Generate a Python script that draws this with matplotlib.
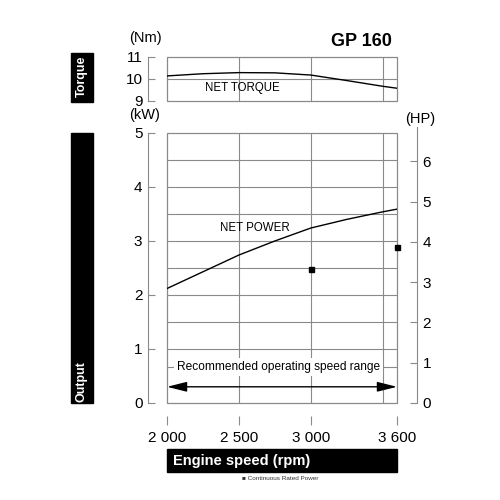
import matplotlib
matplotlib.use('Agg')
import matplotlib.pyplot as plt
import numpy as np
from matplotlib.patches import Rectangle

# ---- data ----
rpm = [2000, 2250, 2500, 2750, 3000, 3250, 3500, 3600]
torque_nm = [10.14, 10.24, 10.29, 10.28, 10.18, 9.93, 9.67, 9.58]
power_kw = [2.12, 2.43, 2.74, 3.00, 3.24, 3.40, 3.54, 3.59]
rated_rpm = [3000, 3600]
rated_kw = [2.48, 2.88]
x_ticks = [2000, 2500, 3000, 3600]
x_ticklabels = ['2 000', '2 500', '3 000', '3 600']
kw_ticks = [0, 1, 2, 3, 4, 5]
hp_ticks = [0, 1, 2, 3, 4, 5, 6]
nm_ticks = [9, 10, 11]
KW_PER_HP = 0.7457

FONT = ['Liberation Sans', 'DejaVu Sans']
plt.rcParams['font.family'] = FONT
GRAY = '#8a8a8a'

fig = plt.figure(figsize=(5, 5), dpi=100)
fig.patch.set_facecolor('white')

# ---- output (kW) axes ----
ax = fig.add_axes([0.334, 0.194, 0.46, 0.54])
ax.set_xlim(2000, 3600)
ax.set_ylim(0, 5)
ax.spines['top'].set_visible(False)
ax.spines['right'].set_visible(False)
ax.spines['left'].set_position(('outward', 13.7))
ax.spines['left'].set_color(GRAY)
ax.spines['left'].set_linewidth(0.8)
ax.spines['bottom'].set_position(('outward', 15.8))
ax.spines['bottom'].set_visible(False)
ax.set_yticks(kw_ticks)
ax.set_xticks(x_ticks)
ax.set_xticklabels(x_ticklabels)
ax.tick_params(axis='y', direction='in', length=5, color=GRAY, width=0.8, labelsize=11, pad=4)
ax.tick_params(axis='x', direction='in', length=6.5, color=GRAY, width=0.8, labelsize=11, pad=4)
ax.add_patch(Rectangle((0, 0), 1, 1, transform=ax.transAxes, fill=False, ec=GRAY, lw=0.9, clip_on=False, zorder=1))
for y in [1.0, 1.5, 2.0, 2.5, 3.0, 3.5, 4.0, 4.5, 0.67]:
    ax.axhline(y, color=GRAY, lw=0.8, zorder=1)
for x in [2500, 3000, 3500]:
    ax.axvline(x, color=GRAY, lw=0.8, zorder=1)
ax.plot(rpm, power_kw, color='black', lw=1.0, zorder=3)
ax.plot(rated_rpm, rated_kw, 's', color='black', ms=3.6, clip_on=False, zorder=4)
ax.text(2608, 3.24, 'NET POWER', ha='center', va='center', fontsize=8.3, zorder=4)
ax.text(2776, 0.67, 'Recommended operating speed range', ha='center', va='center', fontsize=8.6,
        bbox=dict(facecolor='white', edgecolor='none', pad=2), zorder=4)
ax.annotate('', xy=(3600, 0.3), xytext=(2000, 0.3),
            arrowprops=dict(arrowstyle='<|-|>,head_length=1.2,head_width=0.3', color='black', lw=1,
                            mutation_scale=10, shrinkA=0, shrinkB=0), zorder=4)

# ---- HP axis ----
ax2 = ax.twinx()
ax2.set_ylim(0, 5 / KW_PER_HP)
for s in ['top', 'left', 'bottom']:
    ax2.spines[s].set_visible(False)
ax2.spines['right'].set_position(('outward', 14.4))
ax2.spines['right'].set_color(GRAY)
ax2.spines['right'].set_linewidth(0.8)
ax2.spines['right'].set_bounds(0, 6.85)
ax2.set_yticks(hp_ticks)
ax2.tick_params(axis='y', direction='in', length=5, color=GRAY, width=0.8, labelsize=11, pad=4)

# ---- torque axes ----
axt = fig.add_axes([0.334, 0.798, 0.46, 0.088])
axt.set_xlim(2000, 3600)
axt.set_ylim(9, 11)
for s in ['top', 'right', 'bottom']:
    axt.spines[s].set_visible(False)
axt.spines['left'].set_position(('outward', 13.7))
axt.spines['left'].set_color(GRAY)
axt.spines['left'].set_linewidth(0.8)
axt.set_xticks([])
axt.set_yticks(nm_ticks)
axt.tick_params(axis='y', direction='in', length=5, color=GRAY, width=0.8, labelsize=11, pad=4)
axt.add_patch(Rectangle((0, 0), 1, 1, transform=axt.transAxes, fill=False, ec=GRAY, lw=0.9, clip_on=False, zorder=1))
axt.axhline(10, color=GRAY, lw=0.8, zorder=1)
for x in [2500, 3000, 3500]:
    axt.axvline(x, color=GRAY, lw=0.8, zorder=1)
axt.plot(rpm, torque_nm, color='black', lw=1.0, zorder=3)
axt.text(2524, 9.6, 'NET TORQUE', ha='center', va='center', fontsize=8.3, zorder=4)

# ---- labels ----
fig.text(0.29, 0.924, '(Nm)', ha='center', va='center', fontsize=10.5)
fig.text(0.29, 0.77, '(kW)', ha='center', va='center', fontsize=10.5)
fig.text(0.84, 0.763, '(HP)', ha='center', va='center', fontsize=10.5)
fig.text(0.784, 0.918, 'GP 160', ha='right', va='center', fontsize=13, fontweight='bold')

# black bands
fig.add_artist(Rectangle((0.142, 0.796), 0.044, 0.098, transform=fig.transFigure, color='black'))
fig.text(0.164, 0.847, 'Torque', rotation=90, ha='center', va='center', color='white',
         fontsize=9, fontweight='bold')
fig.add_artist(Rectangle((0.142, 0.194), 0.044, 0.54, transform=fig.transFigure, color='black'))
fig.text(0.164, 0.236, 'Output', rotation=90, ha='center', va='center', color='white',
         fontsize=9, fontweight='bold')
fig.add_artist(Rectangle((0.334, 0.056), 0.46, 0.046, transform=fig.transFigure, color='black'))
fig.text(0.346, 0.079, 'Engine speed (rpm)', ha='left', va='center', color='white',
         fontsize=10.5, fontweight='bold')
fig.text(0.484, 0.042, '\u25a0 Continuous Rated Power', ha='left', va='center', fontsize=4.6,
         color='#333333')

fig.savefig('out.png', dpi=100)
